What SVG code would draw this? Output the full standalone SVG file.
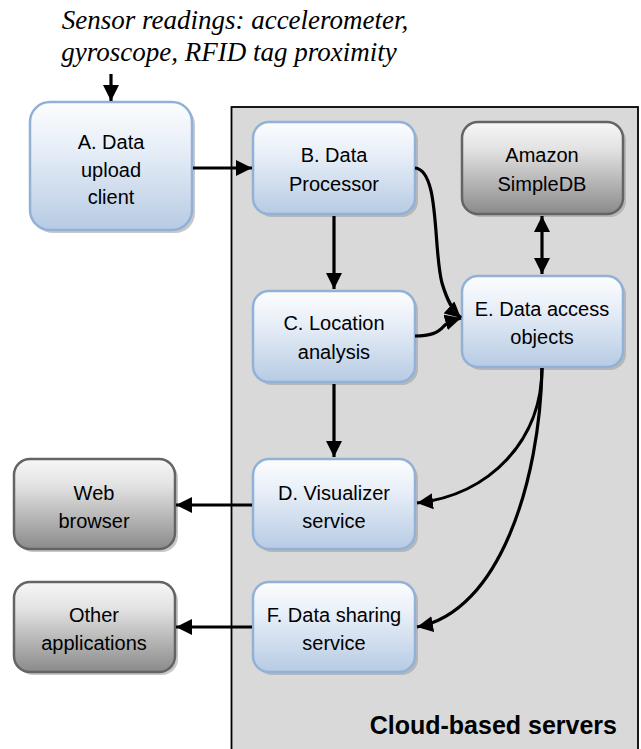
<svg xmlns="http://www.w3.org/2000/svg" width="641" height="749" viewBox="0 0 641 749">
<defs>
<linearGradient id="gBlue" x1="0" y1="0" x2="0" y2="1">
<stop offset="0" stop-color="#fcfdfe"/>
<stop offset="0.35" stop-color="#e8eff8"/>
<stop offset="1" stop-color="#b7cbe3"/>
</linearGradient>
<linearGradient id="gGray" x1="0" y1="0" x2="0" y2="1">
<stop offset="0" stop-color="#f7f7f7"/>
<stop offset="0.3" stop-color="#e2e2e2"/>
<stop offset="1" stop-color="#8a8a8a"/>
</linearGradient>
<marker id="ah" viewBox="0 0 10 10" refX="10" refY="5" markerWidth="5" markerHeight="5" orient="auto" markerUnits="strokeWidth">
<path d="M0,0 L10,5 L0,10 z" fill="#000"/>
</marker>
<marker id="ahs" viewBox="0 0 10 10" refX="10" refY="5" markerWidth="5" markerHeight="5" orient="auto-start-reverse" markerUnits="strokeWidth">
<path d="M0,0 L10,5 L0,10 z" fill="#000"/>
</marker>
</defs>
<style>
.blue{fill:url(#gBlue);stroke:#92b1d6;stroke-width:2.5}
.gray{fill:url(#gGray);stroke:#646464;stroke-width:2.5}
.shadow{fill:#9a9a9a;opacity:0.55}
.lbl{font-family:"Liberation Sans",Arial,sans-serif;font-size:20px;fill:#000;text-anchor:middle}
.con{fill:none;stroke:#000;stroke-width:3.2}
</style>
<rect width="641" height="749" fill="#fff"/>
<g id="cloud">
<rect x="231.5" y="107" width="406.5" height="650" fill="#d9d9d9" stroke="#000" stroke-width="1.8"/>
<text x="617" y="734" font-family="Liberation Sans,Arial,sans-serif" font-size="25" font-weight="bold" text-anchor="end">Cloud-based servers</text>
</g>
<g id="sensor-label">
<text font-family="Liberation Serif,Times New Roman,serif" font-size="27" font-style="italic" text-anchor="middle"><tspan x="235" y="29">Sensor readings: accelerometer,</tspan><tspan x="229" y="61">gyroscope, RFID tag proximity</tspan></text>
</g>
<g id="nodeA">
<rect class="shadow" x="33" y="105" width="162" height="128" rx="20"/>
<rect class="blue" x="30" y="102" width="162" height="128" rx="20"/>
<text class="lbl"><tspan x="111" y="149">A. Data</tspan><tspan x="111" y="177">upload</tspan><tspan x="111" y="204">client</tspan></text>
</g>
<g id="nodeB">
<rect class="shadow" x="256" y="125" width="162" height="92" rx="16"/>
<rect class="blue" x="253" y="122" width="162" height="92" rx="16"/>
<text class="lbl"><tspan x="334" y="162">B. Data</tspan><tspan x="334" y="191">Processor</tspan></text>
</g>
<g id="nodeSimpleDB">
<rect class="shadow" x="465" y="125" width="161" height="92" rx="16"/>
<rect class="gray" x="462" y="122" width="161" height="92" rx="16"/>
<text class="lbl"><tspan x="542" y="162">Amazon</tspan><tspan x="542" y="191">SimpleDB</tspan></text>
</g>
<g id="nodeC">
<rect class="shadow" x="256" y="294" width="162" height="91" rx="16"/>
<rect class="blue" x="253" y="291" width="162" height="91" rx="16"/>
<text class="lbl"><tspan x="334" y="330">C. Location</tspan><tspan x="334" y="359">analysis</tspan></text>
</g>
<g id="nodeE">
<rect class="shadow" x="465" y="279" width="161" height="91" rx="16"/>
<rect class="blue" x="462" y="276" width="161" height="91" rx="16"/>
<text class="lbl"><tspan x="542" y="316">E. Data access</tspan><tspan x="542" y="344">objects</tspan></text>
</g>
<g id="nodeD">
<rect class="shadow" x="256" y="462" width="162" height="90" rx="16"/>
<rect class="blue" x="253" y="459" width="162" height="90" rx="16"/>
<text class="lbl"><tspan x="334" y="500">D. Visualizer</tspan><tspan x="334" y="528">service</tspan></text>
</g>
<g id="nodeF">
<rect class="shadow" x="256" y="585" width="162" height="90" rx="16"/>
<rect class="blue" x="253" y="582" width="162" height="90" rx="16"/>
<text class="lbl"><tspan x="334" y="622">F. Data sharing</tspan><tspan x="334" y="650">service</tspan></text>
</g>
<g id="nodeWeb">
<rect class="shadow" x="17" y="462" width="161" height="90" rx="16"/>
<rect class="gray" x="14" y="459" width="161" height="90" rx="16"/>
<text class="lbl"><tspan x="94" y="500">Web</tspan><tspan x="94" y="528">browser</tspan></text>
</g>
<g id="nodeOther">
<rect class="shadow" x="17" y="585" width="161" height="90" rx="16"/>
<rect class="gray" x="14" y="582" width="161" height="90" rx="16"/>
<text class="lbl"><tspan x="94" y="622">Other</tspan><tspan x="94" y="650">applications</tspan></text>
</g>
<g id="connectors">
<path class="con" d="M111,74 L111,101" marker-end="url(#ah)"/>
<path class="con" d="M193,168 L252,168" marker-end="url(#ah)"/>
<path class="con" d="M334,216 L334,289" marker-end="url(#ah)"/>
<path class="con" d="M334,384 L334,457" marker-end="url(#ah)"/>
<path class="con" d="M542,216 L542,274" marker-start="url(#ahs)" marker-end="url(#ah)"/>
<path class="con" d="M415,168 C440,170 433,250 442,283 C447,300 452,310 461,318" marker-end="url(#ah)"/>
<path class="con" d="M415,336 C430,336 438,333 444,326 C450,320 454,320 461,318" marker-end="url(#ah)"/>
<path class="con" d="M542,368 C542,440 490,495 417,503" marker-end="url(#ah)"/>
<path class="con" d="M542,368 C540,480 500,612 417,627" marker-end="url(#ah)"/>
<path class="con" d="M252,505 L176,505" marker-end="url(#ah)"/>
<path class="con" d="M252,627 L176,627" marker-end="url(#ah)"/>
</g>
</svg>
